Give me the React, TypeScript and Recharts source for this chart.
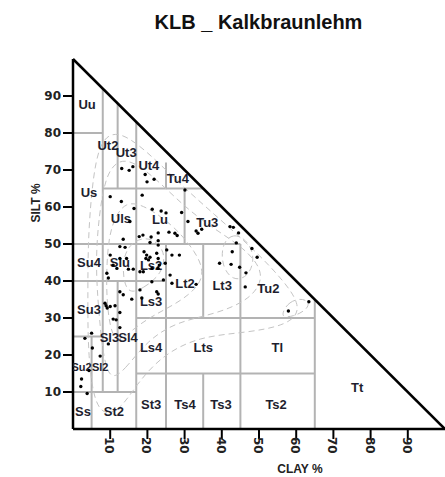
import React from 'react';
import { ComposedChart, XAxis, YAxis, Scatter, ReferenceLine } from 'recharts';

const chartTitle = 'KLB _ Kalkbraunlehm';
const xAxisLabel = 'CLAY %';
const yAxisLabel = 'SILT %';
const axisTicks = [10, 20, 30, 40, 50, 60, 70, 80, 90];

// sample points (clay %, silt %)
const sampleClay = [
  13.1, 15.1, 16.1, 19.4, 19.9, 21.8, 30.1, 10.0, 13.0, 18.6, 16.4, 21.3, 23.7, 25.0, 29.2,
  30.9, 33.1, 33.6, 34.6, 27.4, 28.0, 25.8, 17.8, 18.8, 21.0, 22.9, 22.9, 13.5, 15.3, 12.6,
  14.0, 20.7, 22.9, 19.1, 19.8, 20.7, 19.6, 20.3, 22.5, 22.9, 23.2, 22.9, 25.2, 26.6, 28.6,
  10.0, 12.6, 14.4, 10.8, 11.8, 14.9, 16.2, 18.0, 18.9, 21.2, 9.1, 9.5, 21.2, 26.1, 26.6,
  24.8, 42.2, 43.1, 44.5, 43.9, 48.1, 49.5, 42.8, 39.4, 42.5, 44.8, 46.5, 46.3, 33.1, 24.3,
  63.4, 57.9, 12.6, 13.5, 18.0, 15.8, 22.5, 22.9, 18.5, 8.6, 8.9, 9.2, 10.0, 11.3, 12.6,
  10.8, 11.6, 12.6, 5.0, 3.2, 9.5, 5.2, 7.3, 4.3, 2.3, 2.1, 3.8,
];
const sampleSilt = [
  70.4, 69.9, 70.9, 68.8, 66.8, 67.5, 64.6, 62.8, 61.5, 63.2, 59.6, 59.4, 58.9, 58.4, 58.5,
  56.1, 53.5, 52.9, 54.0, 52.9, 52.3, 53.2, 52.0, 52.4, 51.9, 53.0, 50.9, 51.3, 56.1, 49.3,
  49.1, 50.4, 49.7, 47.9, 47.0, 46.4, 46.1, 45.7, 47.5, 46.1, 44.3, 43.4, 48.4, 47.0, 47.0,
  47.0, 46.1, 46.1, 44.3, 43.4, 43.2, 43.2, 42.5, 42.5, 43.4, 42.1, 40.8, 39.8, 41.6, 39.4,
  44.8, 54.7, 54.5, 53.0, 50.3, 48.8, 46.4, 47.9, 44.8, 44.5, 43.7, 42.2, 38.4, 39.1, 40.3,
  34.4, 31.9, 37.1, 36.3, 37.6, 35.1, 37.1, 36.5, 35.4, 34.0, 33.3, 32.7, 33.1, 33.3, 31.5,
  29.7, 29.5, 27.4, 25.9, 24.5, 23.0, 21.9, 19.7, 15.8, 13.5, 11.5, 9.6,
];

// soil texture class names and where their labels sit (clay %, silt %)
const classNames = [
  'Uu', 'Ut2', 'Ut3', 'Ut4', 'Tu4', 'Us', 'Uls', 'Lu', 'Tu3', 'Su4', 'Slu', 'Ls2', 'Lt2', 'Lt3',
  'Tu2', 'Su3', 'Ls3', 'Sl3', 'Sl4', 'Ls4', 'Lts', 'Tl', 'Su2', 'Sl2', 'Ss', 'St2', 'St3', 'Ts4',
  'Ts3', 'Ts2', 'Tt',
];
const classClay = [
  3.8, 9.4, 14.3, 20.4, 28.2, 4.3, 12.9, 23.4, 36.1, 4.3, 12.6, 21.0, 30.1, 40.1,
  52.5, 4.3, 21.0, 9.8, 14.8, 21.0, 35.0, 54.9, 2.3, 7.3, 2.7, 11.0, 21.0, 30.1,
  39.8, 54.6, 76.4,
];
const classSilt = [
  87.7, 76.7, 74.8, 71.3, 67.8, 64.0, 57.0, 56.7, 55.7, 44.9, 44.9, 44.3, 39.2, 38.9,
  38.1, 32.2, 34.4, 24.7, 24.7, 22.0, 22.0, 22.0, 16.8, 16.8, 4.7, 4.7, 6.5, 6.5,
  6.7, 6.7, 11.2,
];
// narrow cells whose labels are set a little smaller
const smallLabels = ['Su2', 'Sl2'];

// class boundaries
const clayBoundaries = [
  { clay: 5, from: 0, to: 25 },
  { clay: 8, from: 10, to: 92 },
  { clay: 12, from: 10, to: 40 },
  { clay: 12, from: 65, to: 88 },
  { clay: 17, from: 0, to: 83 },
  { clay: 25, from: 0, to: 50 },
  { clay: 25, from: 65, to: 72 },
  { clay: 30, from: 50, to: 65 },
  { clay: 35, from: 0, to: 15 },
  { clay: 35, from: 30, to: 50 },
  { clay: 45, from: 0, to: 50 },
  { clay: 65, from: 0, to: 35 },
];
const siltBoundaries = [
  { silt: 10, from: 0, to: 17 },
  { silt: 15, from: 17, to: 65 },
  { silt: 25, from: 0, to: 8 },
  { silt: 30, from: 17, to: 65 },
  { silt: 40, from: 0, to: 25 },
  { silt: 50, from: 0, to: 45 },
  { silt: 65, from: 8, to: 35 },
  { silt: 80, from: 0, to: 8 },
];

// density contour outlines (clay %, silt %)
const contourOuter = [
  [6, 4], [12, 4], [17, 12], [24, 20], [34, 25], [46, 26], [58, 28], [62, 33], [55, 42], [47, 50],
  [38, 58], [29, 66], [20, 75], [12, 81], [7, 78], [5, 65], [4, 50], [4, 35], [4, 20],
];
const contourMid = [
  [9, 12], [14, 16], [20, 24], [28, 29], [38, 31], [48, 35], [52, 42], [46, 49], [38, 54], [30, 60],
  [22, 68], [14, 74], [9, 70], [7, 58], [6, 45], [7, 30],
];
const contourInner = [
  [11, 22], [16, 27], [22, 31], [30, 35], [36, 41], [33, 48], [27, 55], [20, 60], [14, 62], [10, 55],
  [9, 45], [9, 33],
];
const contourCore = [[14, 36], [19, 38], [24, 42], [25, 48], [21, 52], [16, 51], [13, 46]];
const contourRight = [[40, 50], [43, 53], [47, 51], [49, 46], [47, 41], [43, 40], [40, 44]];
const contourSmall = [[56, 31], [58, 34.5], [62, 35.5], [64, 33.5], [61, 31], [57, 30]];

const samples = sampleClay.map((c, i) => ({ clay: c, silt: sampleSilt[i] }));
const classLabels = classNames.map((n, i) => ({ clay: classClay[i], silt: classSilt[i], name: n }));
const contours = [contourOuter, contourMid, contourInner, contourCore, contourRight, contourSmall].map((c) =>
  c.map(([clay, silt]) => ({ clay, silt }))
);

const GRID = '#b3b3b3';
const TEXT = '#1e1e2e';

const XTick = (props: any) => {
  const { x, y, payload } = props;
  return (
    <text
      transform={`translate(${x - 1},${y - 4}) rotate(90)`}
      textAnchor="start"
      dominantBaseline="central"
      fontFamily="DejaVu Sans"
      fontWeight="bold"
      fontSize={12}
      fill="#222"
    >
      {payload.value}
    </text>
  );
};

const Dot = (p: any) => <circle cx={p.cx} cy={p.cy} r={1.7} fill="#000" />;
const NoDot = () => <g />;
const ClassLabel = (p: any) => {
  const name = p.payload?.name ?? '';
  return (
    <text
      x={p.cx}
      y={p.cy}
      textAnchor="middle"
      dominantBaseline="central"
      fontFamily="Liberation Sans, Arial, sans-serif"
      fontWeight="bold"
      fontSize={smallLabels.includes(name) ? 11 : 13}
      fill={TEXT}
    >
      {name}
    </text>
  );
};

export default function App() {
  return (
    <div style={{ position: 'absolute', left: 0, top: 0, width: 445, height: 477, background: '#fff' }}>
      <ComposedChart width={445} height={477} margin={{ top: 59, right: 0, bottom: 0, left: 0 }}>
        <XAxis
          type="number"
          dataKey="clay"
          domain={[0, 100]}
          ticks={axisTicks}
          allowDataOverflow
          height={48}
          axisLine={{ stroke: '#000', strokeWidth: 2.5 }}
          tickLine={{ stroke: '#000', strokeWidth: 2 }}
          tickSize={10}
          tick={<XTick />}
          interval={0}
        />
        <YAxis
          type="number"
          dataKey="silt"
          domain={[0, 100]}
          ticks={axisTicks}
          allowDataOverflow
          width={73}
          axisLine={{ stroke: '#000', strokeWidth: 2.5 }}
          tickLine={{ stroke: '#000', strokeWidth: 2 }}
          tickSize={10}
          tickMargin={2}
          interval={0}
          tick={{ fill: '#222', fontSize: 12, fontWeight: 'bold', fontFamily: 'DejaVu Sans' }}
        />
        {contours.map((c, i) => (
          <Scatter
            key={'ct' + i}
            data={c}
            line={{ stroke: '#c4c4c4', strokeWidth: 1, strokeDasharray: '6 4' }}
            lineType="joint"
            lineJointType="basisClosed"
            shape={<NoDot />}
            isAnimationActive={false}
          />
        ))}
        {clayBoundaries.map((b, i) => (
          <ReferenceLine
            key={'v' + i}
            segment={[{ x: b.clay, y: b.from }, { x: b.clay, y: b.to }]}
            stroke={GRID}
            strokeWidth={2}
            ifOverflow="visible"
          />
        ))}
        {siltBoundaries.map((b, i) => (
          <ReferenceLine
            key={'h' + i}
            segment={[{ x: b.from, y: b.silt }, { x: b.to, y: b.silt }]}
            stroke={GRID}
            strokeWidth={2}
            ifOverflow="visible"
          />
        ))}
        <ReferenceLine
          segment={[{ x: 0, y: 100 }, { x: 100, y: 0 }]}
          stroke="#000"
          strokeWidth={2.5}
          ifOverflow="visible"
        />
        <Scatter data={classLabels} shape={<ClassLabel />} isAnimationActive={false} />
        <Scatter data={samples} shape={<Dot />} isAnimationActive={false} />
      </ComposedChart>
      <svg
        width={445}
        height={477}
        style={{ position: 'absolute', left: 0, top: 0, pointerEvents: 'none' }}
      >
        <text
          x={258.5}
          y={28.5}
          textAnchor="middle"
          fontFamily="Liberation Sans, Arial, sans-serif"
          fontWeight="bold"
          fontSize={20}
          fill="#111"
        >
          {chartTitle}
        </text>
        <text
          transform="translate(40,203) rotate(-90)"
          textAnchor="middle"
          fontFamily="Liberation Sans, Arial, sans-serif"
          fontWeight="bold"
          fontSize={12}
          fill="#222"
        >
          {yAxisLabel}
        </text>
        <text
          x={300}
          y={473}
          textAnchor="middle"
          fontFamily="Liberation Sans, Arial, sans-serif"
          fontWeight="bold"
          fontSize={12}
          fill="#222"
        >
          {xAxisLabel}
        </text>
      </svg>
    </div>
  );
}
